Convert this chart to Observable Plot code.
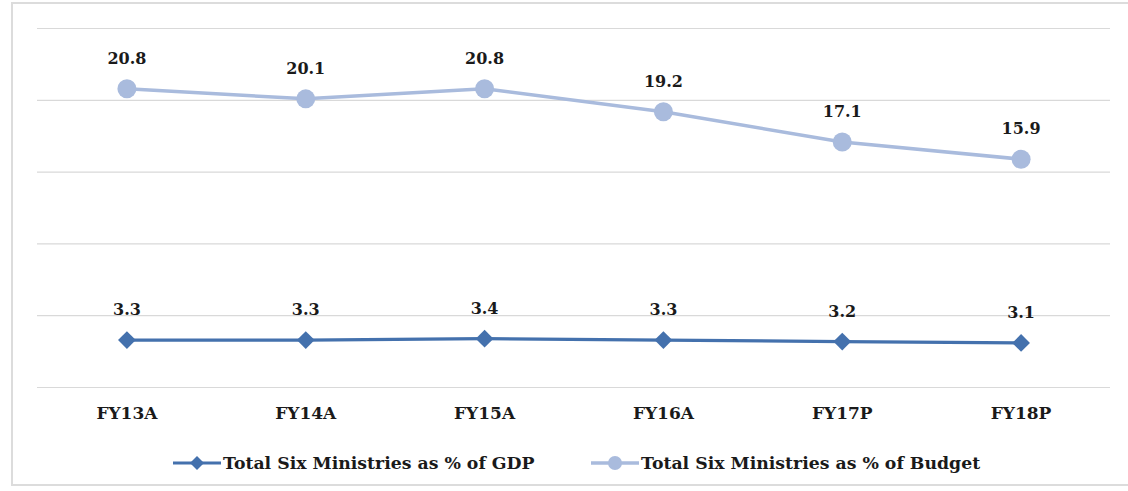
<!DOCTYPE html>
<html>
<head>
<meta charset="utf-8">
<script src="https://cdn.jsdelivr.net/npm/d3@7"></script>
<script src="https://cdn.jsdelivr.net/npm/@observablehq/plot@0.6"></script>
<style>
  html, body { margin: 0; padding: 0; background: #fff; }
  body { width: 1128px; height: 491px; position: relative; overflow: hidden; font-family: "DejaVu Serif", serif; }
  #frame { position: absolute; left: 11px; top: 2px; width: 1130px; height: 484px; border: 2px solid #dcdcdc; box-sizing: border-box; }
  #chart { position: absolute; left: 0; top: 0; }
  #legend { position: absolute; left: 0; top: 451px; width: 1128px; height: 24px; font-weight: bold; font-size: 17.3px; color: #1a1a1a; }
  .item { position: absolute; top: 0; display: flex; align-items: center; height: 24px; white-space: nowrap; }
  .item svg { margin-right: 2px; }
</style>
</head>
<body>
<div id="frame"></div>
<div id="chart"></div>
<div id="legend"></div>
<script>
const categories = ["FY13A", "FY14A", "FY15A", "FY16A", "FY17P", "FY18P"];
const gdpValues = [3.3, 3.3, 3.4, 3.3, 3.2, 3.1];
const budgetValues = [20.8, 20.1, 20.8, 19.2, 17.1, 15.9];
const yTicks = [0, 5, 10, 15, 20, 25];
const seriesNames = ["Total Six Ministries as % of GDP", "Total Six Ministries as % of Budget"];
const colors = ["#4471ad", "#a9bbdd"];

const gdp = categories.map((c, i) => ({cat: c, value: gdpValues[i]}));
const budget = categories.map((c, i) => ({cat: c, value: budgetValues[i]}));

const fmt = d => d.value.toFixed(1);

const chart = Plot.plot({
  width: 1128,
  height: 440,
  marginLeft: 37,
  marginRight: 18,
  marginTop: 28,
  marginBottom: 53,
  style: {fontFamily: "DejaVu Serif", background: "transparent"},
  x: {type: "point", domain: categories, padding: 0.5, round: false, label: null},
  y: {domain: [0, 25], label: null, axis: null},
  marks: [
    Plot.ruleY(yTicks, {stroke: "#d9d9d9", strokeWidth: 1.2}),
    Plot.axisX({tickSize: 0, tickPadding: 19, fontSize: 17, fontWeight: "bold", fill: "#1a1a1a", label: null}),
    Plot.line(budget, {x: "cat", y: "value", stroke: colors[1], strokeWidth: 3.5}),
    Plot.dot(budget, {x: "cat", y: "value", fill: colors[1], r: 9.5, symbol: "circle"}),
    Plot.line(gdp, {x: "cat", y: "value", stroke: colors[0], strokeWidth: 3.2}),
    Plot.dot(gdp, {x: "cat", y: "value", fill: colors[0], r: 8, symbol: "diamond2"}),
    Plot.text(budget, {x: "cat", y: "value", text: fmt, dy: -30, fontSize: 16, fontWeight: "bold", fill: "#1a1a1a"}),
    Plot.text(gdp, {x: "cat", y: "value", text: fmt, dy: -30, fontSize: 16, fontWeight: "bold", fill: "#1a1a1a"})
  ]
});
document.getElementById("chart").appendChild(chart);

// Legend
const legend = document.getElementById("legend");
const lefts = [173, 591];
seriesNames.forEach((name, i) => {
  const item = document.createElement("div");
  item.className = "item";
  item.style.left = lefts[i] + "px";
  const sw = i === 0
    ? `<svg width="48" height="20"><line x1="0" y1="10" x2="48" y2="10" stroke="${colors[0]}" stroke-width="3.2"/><path d="M24,3 L31,10 L24,17 L17,10 Z" fill="${colors[0]}"/></svg>`
    : `<svg width="48" height="20"><line x1="0" y1="10" x2="48" y2="10" stroke="${colors[1]}" stroke-width="3.5"/><circle cx="24" cy="10" r="7" fill="${colors[1]}"/></svg>`;
  item.innerHTML = sw + `<span>${name}</span>`;
  legend.appendChild(item);
});
</script>
</body>
</html>
